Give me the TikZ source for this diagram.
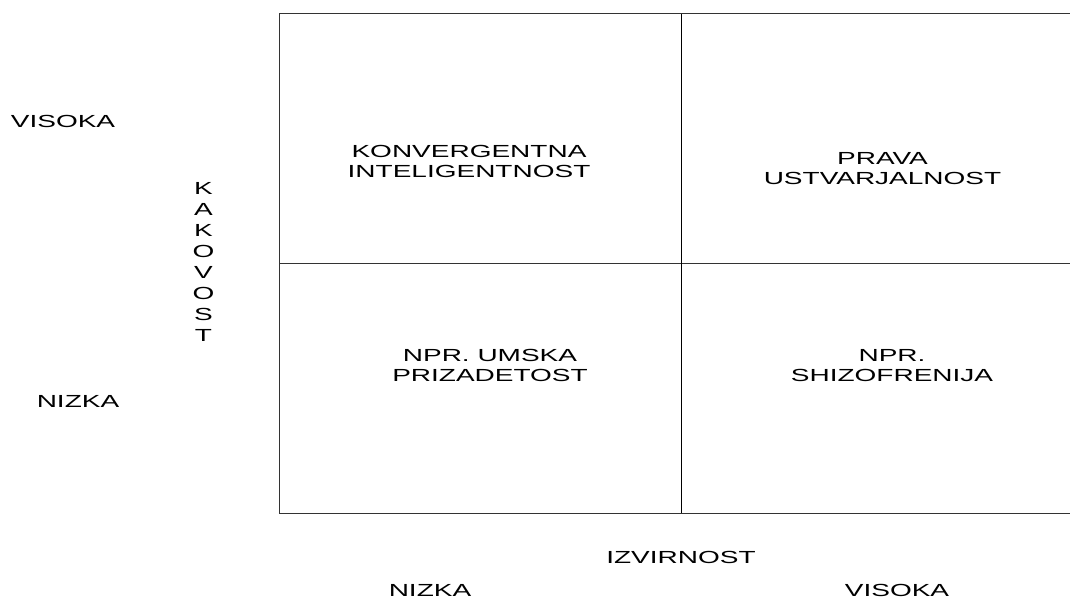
\documentclass[tikz,border=0pt]{standalone}
\usepackage{fontspec}
\setmainfont{Liberation Sans}[FakeStretch=1.6]
\usepackage{tikz}
\usetikzlibrary{positioning}

\tikzset{
  label/.style={align=center,anchor=north,inner sep=0pt,font=\fontsize{17.5}{20}\selectfont},
  gridline/.style={line width=1pt,draw=black!80}
}

\begin{document}
\begin{tikzpicture}[x=1pt,y=-1pt]
  \useasboundingbox (0,0) rectangle (1070,599);

  \coordinate (tl) at (279,14);
  \coordinate (tm) at (681,14);
  \coordinate (tr) at (1070,14);
  \coordinate (ml) at (279,263.5);
  \coordinate (mr) at (1070,263.5);
  \coordinate (bl) at (279,513);
  \coordinate (bm) at (681,513);
  \coordinate (br) at (1070,513);

  \draw[gridline] (tr) -- (tl) -- (bl) -- (br);
  \draw[gridline] (ml) -- (mr);
  \draw[gridline,draw=black] (tm) -- (bm);

  \node at (469,145) [label] (conv) {
    KONVERGENTNA\\INTELIGENTNOST
  };

  \node at (882.5,152) [label] (prava) {
    PRAVA\\USTVARJALNOST
  };

  \node at (490,349) [label] (umska) {
    NPR. UMSKA\\PRIZADETOST
  };

  \node at (892,349) [label] (shizo) {
    NPR.\\SHIZOFRENIJA
  };

  \node at (63,115) [label] (yhigh) {VISOKA};
  \node at (78,395.5) [label] (ylow) {NIZKA};

  \node at (203.5,182) [label,font=\fontsize{17.5}{21}\selectfont] (kakovost) {
    K\\A\\K\\O\\V\\O\\S\\T
  };

  \node at (681,551) [label] (izvirnost) {IZVIRNOST};
  \node at (430,584) [label] (xlow) {NIZKA};
  \node at (897,584) [label] (xhigh) {VISOKA};
\end{tikzpicture}
\end{document}
